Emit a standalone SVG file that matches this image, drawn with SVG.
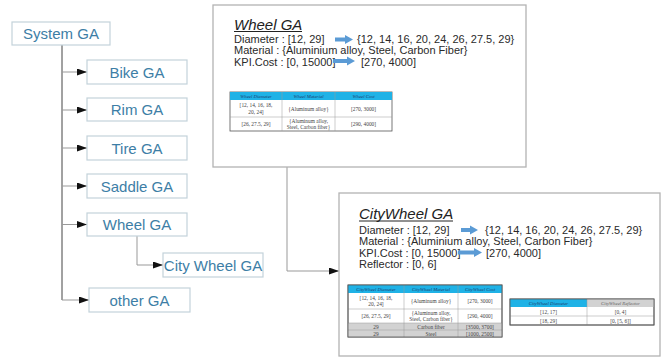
<svg xmlns="http://www.w3.org/2000/svg" width="664" height="357" viewBox="0 0 664 357">
<defs>
<marker id="ah" markerUnits="userSpaceOnUse" markerWidth="11" markerHeight="8" refX="10" refY="3.5" orient="auto"><path d="M0,0 L10,3.5 L0,7 z" fill="#111"/></marker>
</defs>
<style>
.box{fill:#fff;stroke:#c3d2da;stroke-width:1.2}
.bt{font-family:"Liberation Sans",Arial,sans-serif;font-size:15px;fill:#3d7ea6;text-anchor:middle}
.panel{fill:#fff;stroke:#b3b3b3;stroke-width:1.3}
.ttl{font-family:"Liberation Sans",Arial,sans-serif;font-size:15px;font-style:italic;fill:#222}
.pt{font-family:"Liberation Sans",Arial,sans-serif;font-size:11px;fill:#2a2a2a}
.ba{fill:#5b9bd5}
.conn{fill:none;stroke:#444;stroke-width:1}
.connl{fill:none;stroke:#999;stroke-width:1}
.tb{fill:#fff;stroke:#555;stroke-width:0.8}
.tl{stroke:#999;stroke-width:0.5}
.hd{fill:#1fb2e6}
.gr{fill:#d2d2d2}
.th{font-family:"Liberation Serif","Times New Roman",serif;font-size:4.8px;font-style:italic;fill:#1d3f70;text-anchor:middle}
.td{font-family:"Liberation Serif","Times New Roman",serif;font-size:5.4px;fill:#444;text-anchor:middle}
</style>

<g id="connectors">
<line class="conn" x1="62" y1="45" x2="62" y2="300"/>
<line class="connl" x1="62" y1="72" x2="87" y2="72" marker-end="url(#ah)"/>
<line class="connl" x1="62" y1="110" x2="87" y2="110" marker-end="url(#ah)"/>
<line class="connl" x1="62" y1="148" x2="87" y2="148" marker-end="url(#ah)"/>
<line class="connl" x1="62" y1="186" x2="87" y2="186" marker-end="url(#ah)"/>
<line class="connl" x1="62" y1="224.5" x2="87" y2="224.5" marker-end="url(#ah)"/>
<line class="connl" x1="62" y1="300" x2="89" y2="300" marker-end="url(#ah)"/>
<polyline class="connl" points="137,236 137,265 163,265" marker-end="url(#ah)"/>
<polyline class="connl" points="287,167 287,271 339,271" marker-end="url(#ah)"/>
</g>

<g id="system-ga"><rect class="box" x="12" y="22" width="98" height="23"/><text class="bt" x="61" y="39">System GA</text></g>
<g id="bike-ga"><rect class="box" x="87" y="60" width="100" height="24"/><text class="bt" x="137" y="77.5">Bike GA</text></g>
<g id="rim-ga"><rect class="box" x="87" y="98" width="100" height="23"/><text class="bt" x="137" y="115">Rim GA</text></g>
<g id="tire-ga"><rect class="box" x="87" y="136" width="100" height="24"/><text class="bt" x="137" y="153.5">Tire GA</text></g>
<g id="saddle-ga"><rect class="box" x="87" y="174" width="100" height="24"/><text class="bt" x="137" y="191.5">Saddle GA</text></g>
<g id="wheel-ga"><rect class="box" x="87" y="213" width="100" height="23"/><text class="bt" x="137" y="230">Wheel GA</text></g>
<g id="city-wheel-ga"><rect class="box" x="163" y="253" width="100" height="24"/><text class="bt" x="213" y="270.5">City Wheel GA</text></g>
<g id="other-ga"><rect class="box" x="89" y="288" width="101" height="24"/><text class="bt" x="139.5" y="305.5">other GA</text></g>

<g id="wheel-panel">
<rect class="panel" x="213" y="5" width="313" height="162"/>
<text class="ttl" x="234" y="29.5">Wheel GA</text>
<line x1="234" y1="31.5" x2="302" y2="31.5" stroke="#222" stroke-width="1"/>
<text class="pt" x="234" y="42.5">Diameter : [12, 29]</text>
<path class="ba" d="M335,37.5 H345 V35 L353,39.5 L345,44 V41.5 H335 Z"/>
<text class="pt" x="357" y="42.5">{12, 14, 16, 20, 24, 26, 27.5, 29}</text>
<text class="pt" x="234" y="54">Material : {Aluminium alloy, Steel, Carbon Fiber}</text>
<text class="pt" x="234" y="65.5">KPI.Cost : [0, 15000]</text>
<path class="ba" d="M333,59 H347 V56.5 L355,61 L347,65.5 V63 H333 Z"/>
<text class="pt" x="361" y="65.5">[270, 4000]</text>
<rect class="tb" x="230" y="92" width="162" height="39"/>
<rect class="hd" x="230" y="92" width="162" height="8"/>
<line class="tl" x1="282" y1="92" x2="282" y2="131"/>
<line class="tl" x1="335" y1="92" x2="335" y2="131"/>
<line class="tl" x1="230" y1="117" x2="392" y2="117"/>
<text class="th" x="256" y="98">Wheel Diameter</text>
<text class="th" x="308.5" y="98">Wheel Material</text>
<text class="th" x="363.5" y="98">Wheel Cost</text>
<text class="td" x="256" y="107">[12, 14, 16, 18,</text>
<text class="td" x="256" y="114">20, 24]</text>
<text class="td" x="308.5" y="110.5">{Aluminum alloy}</text>
<text class="td" x="363.5" y="110.5">[270, 3000]</text>
<text class="td" x="256" y="126">[26, 27.5, 29]</text>
<text class="td" x="308.5" y="122.5">{Aluminum alloy,</text>
<text class="td" x="308.5" y="129">Steel, Carbon fiber}</text>
<text class="td" x="363.5" y="126">[290, 4000]</text>
</g>

<g id="citywheel-panel">
<rect class="panel" x="339" y="193" width="321" height="163"/>
<text class="ttl" x="359" y="219">CityWheel GA</text>
<line x1="359" y1="221" x2="453" y2="221" stroke="#222" stroke-width="1"/>
<text class="pt" x="359" y="233.5">Diameter : [12, 29]</text>
<path class="ba" d="M461,228 H470 V225.5 L478,230 L470,234.5 V232 H461 Z"/>
<text class="pt" x="485" y="233.5">{12, 14, 16, 20, 24, 26, 27.5, 29}</text>
<text class="pt" x="359" y="245">Material : {Aluminium alloy, Steel, Carbon Fiber}</text>
<text class="pt" x="359" y="256.5">KPI.Cost : [0, 15000]</text>
<path class="ba" d="M458,250.5 H474 V248 L482,252.5 L474,257 V254.5 H458 Z"/>
<text class="pt" x="486" y="256.5">[270, 4000]</text>
<text class="pt" x="359" y="268">Reflector : [0, 6]</text>

<rect class="tb" x="348" y="285" width="154" height="52"/>
<rect class="hd" x="348" y="285" width="154" height="8"/>
<rect class="gr" x="348" y="323" width="154" height="14"/>
<line class="tl" x1="404" y1="285" x2="404" y2="337"/>
<line class="tl" x1="458" y1="285" x2="458" y2="337"/>
<line class="tl" x1="348" y1="309" x2="502" y2="309"/>
<line class="tl" x1="348" y1="323" x2="502" y2="323"/>
<line class="tl" x1="348" y1="330" x2="502" y2="330"/>
<rect x="348" y="285" width="154" height="52" fill="none" stroke="#555" stroke-width="0.8"/>
<text class="th" x="376" y="291">CityWheel Diameter</text>
<text class="th" x="431" y="291">CityWheel Material</text>
<text class="th" x="480" y="291">CityWheel Cost</text>
<text class="td" x="376" y="299.5">[12, 14, 16, 18,</text>
<text class="td" x="376" y="306">20, 24]</text>
<text class="td" x="431" y="303">{Aluminum alloy}</text>
<text class="td" x="480" y="303">[270, 3000]</text>
<text class="td" x="376" y="318">[26, 27.5, 29]</text>
<text class="td" x="431" y="314.5">{Aluminum alloy,</text>
<text class="td" x="431" y="321">Steel, Carbon fiber}</text>
<text class="td" x="480" y="318">[290, 4000]</text>
<text class="td" x="376" y="328.5">29</text>
<text class="td" x="431" y="328.5">Carbon fiber</text>
<text class="td" x="480" y="328.5">[3500, 3700]</text>
<text class="td" x="376" y="335.5">29</text>
<text class="td" x="431" y="335.5">Steel</text>
<text class="td" x="480" y="335.5">[1000, 2500]</text>

<rect class="tb" x="510" y="299" width="144" height="26"/>
<rect class="hd" x="510" y="299" width="77" height="8"/>
<rect class="gr" x="587" y="299" width="67" height="8"/>
<line class="tl" x1="587" y1="299" x2="587" y2="325"/>
<line class="tl" x1="510" y1="316" x2="654" y2="316"/>
<rect x="510" y="299" width="144" height="26" fill="none" stroke="#555" stroke-width="0.8"/>
<text class="th" x="548.5" y="305">CityWheel Diameter</text>
<text class="th" x="620.5" y="305" style="fill:#666">CityWheel Reflector</text>
<text class="td" x="548.5" y="313.5">[12, 17]</text>
<text class="td" x="620.5" y="313.5">[0, 4]</text>
<text class="td" x="548.5" y="322.5">[18, 29]</text>
<text class="td" x="620.5" y="322.5">[0, [5, 6]]</text>
</g>
</svg>
